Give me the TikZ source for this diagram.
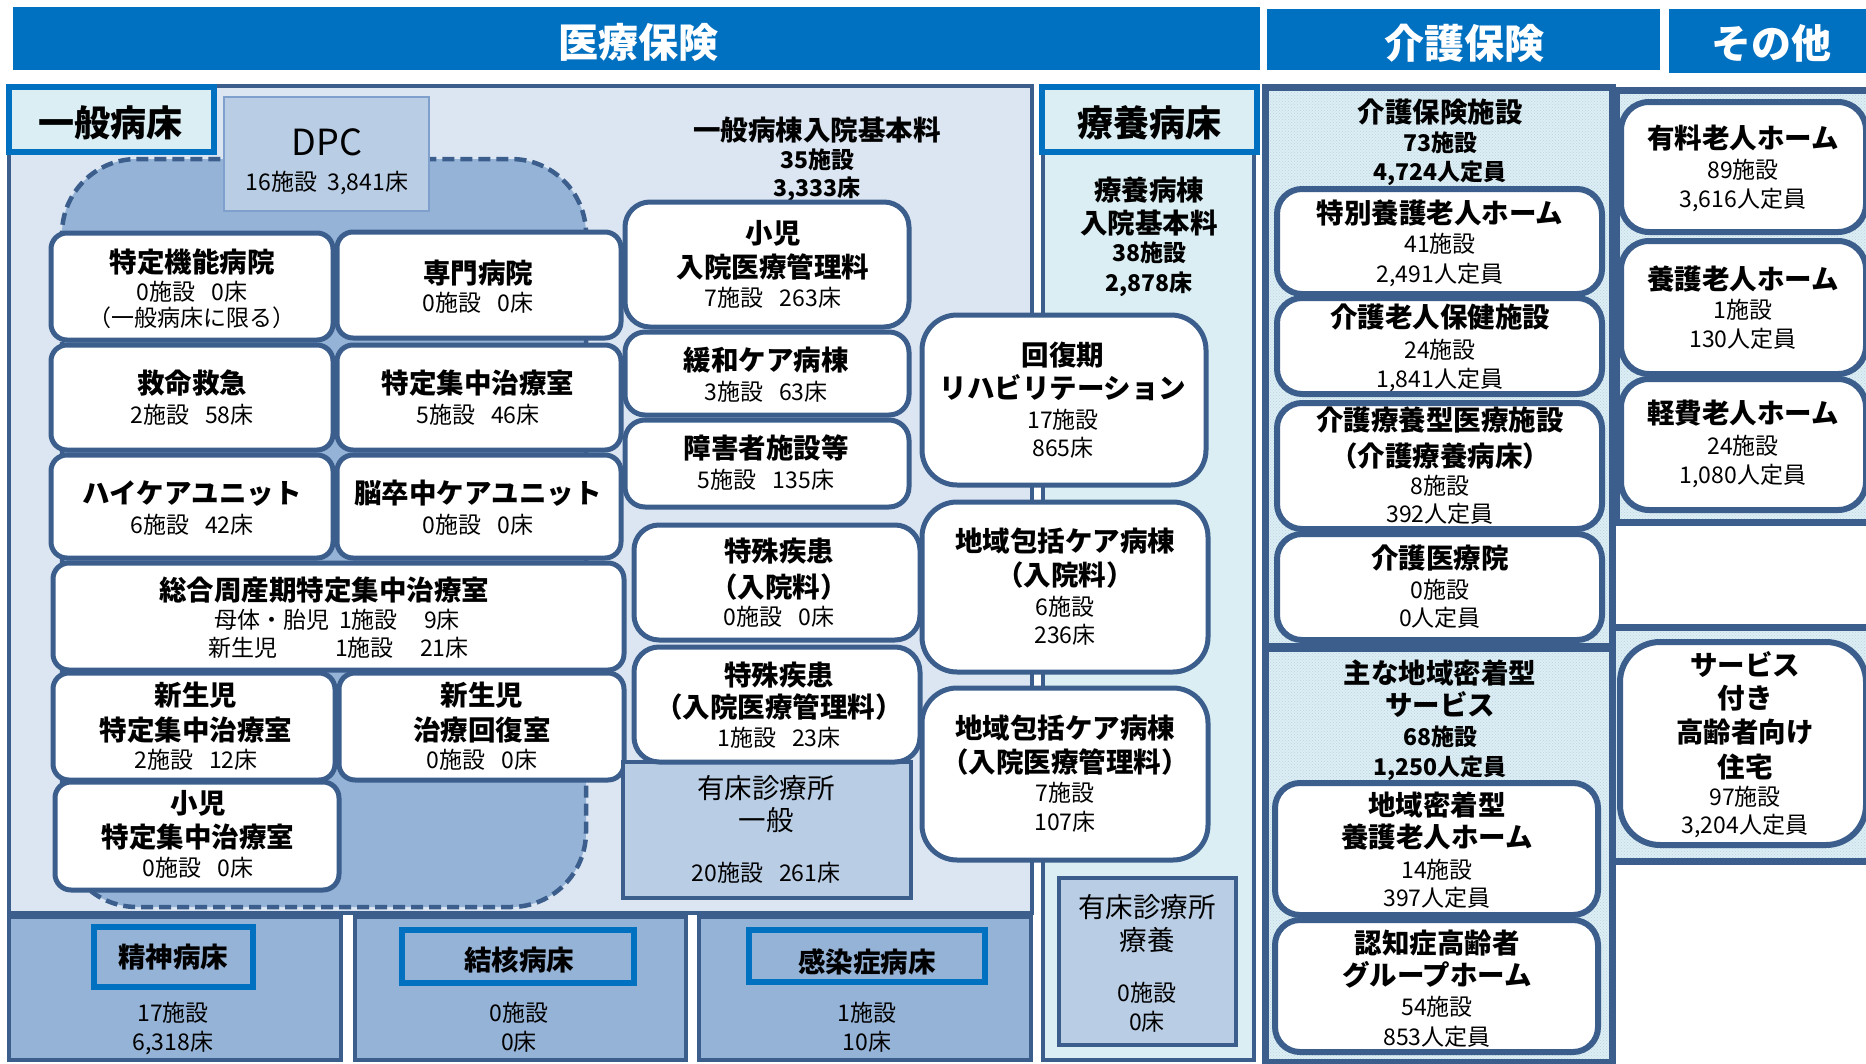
\documentclass[tikz,border=0pt]{standalone}
\usepackage{fontspec}
\setmainfont{Noto Sans CJK JP}
\usetikzlibrary{fit,patterns}
\definecolor{hdr}{HTML}{0070C0}
\definecolor{dk}{HTML}{3B5E8C}
\definecolor{pane}{HTML}{DCE6F2}
\definecolor{mid}{HTML}{95B3D7}
\definecolor{pale}{HTML}{B9CDE5}
\definecolor{cyanl}{HTML}{DAEEF3}
\definecolor{dpcb}{HTML}{7F9FCC}
\definecolor{kfill}{HTML}{DDEEF4}
\definecolor{kdot}{HTML}{B8D4E2}
\newcommand\gp{\hspace{0.7em}}
\newcommand\mkbox[6]{\path (#3,#4) coordinate (#2a) (#5,#6) coordinate (#2b);
  \node[#1, fit=(#2a)(#2b)] (#2) {};}
\newcommand\tx[5]{\node[#1] (#2) at (#3,#4) {#5};}
\tikzset{
  every node/.style={inner sep=0pt, outer sep=0pt},
  hbar/.style={fill=hdr},
  gpan/.style={fill=pane, draw=dk, line width=4pt},
  rpan/.style={fill=cyanl, draw=dk, line width=4pt},
  lab/.style={fill=cyanl, draw=hdr, line width=6pt},
  blab/.style={fill=mid, draw=hdr, line width=6pt},
  bpan/.style={fill=mid, draw=dk, line width=4pt},
  clin/.style={fill=pale, draw=dk, line width=4pt},
  dpcbox/.style={fill=pale, draw=dpcb, line width=1.5pt},
  wbox/.style={fill=white, draw=dk, line width=5pt, rounded corners=#1},
  kbox/.style={fill=white, draw=dk, line width=6pt, rounded corners=#1},
  kpan/.style={draw=dk, line width=7pt, preaction={fill=kfill}, pattern=crosshatch dots, pattern color=kdot},
  H/.style={font=\fontsize{40}{44}\selectfont\bfseries, text=white, text height=33pt, text depth=3pt},
  L/.style={font=\fontsize{36}{40}\selectfont\bfseries, text height=30pt, text depth=2.5pt},
  D/.style={font=\fontsize{36}{40}\selectfont, text height=30pt, text depth=2.5pt},
  T/.style={font=\fontsize{27.5}{30}\selectfont\bfseries, text height=22.8pt, text depth=1.9pt},
  M/.style={font=\fontsize{27.5}{30}\selectfont, text height=22.8pt, text depth=1.9pt},
  N/.style={font=\fontsize{23}{27}\selectfont, text height=19.1pt, text depth=1.6pt},
  NB/.style={font=\fontsize{23}{27}\selectfont\bfseries, text height=19.1pt, text depth=1.6pt},
}
\begin{document}
\begin{tikzpicture}[x=1pt, y=-1pt]
\useasboundingbox (0,0) rectangle (1866,1063);
\clip (0,0) rectangle (1866,1063);
% headers
\mkbox{hbar}{hA}{13}{7}{1260}{70}
\mkbox{hbar}{hB}{1267}{9}{1660}{70}
\mkbox{hbar}{hC}{1669}{9}{1875}{73}
\tx{H}{thA}{638}{42}{医療保険}
\tx{H}{thB}{1464}{43}{介護保険}
\tx{H}{thC}{1771}{43}{その他}
% general beds panel
\mkbox{gpan}{pG}{9}{86}{1032}{913}
\draw[fill=mid, draw=dk, line width=4.5pt, dash pattern=on 12pt off 6pt, rounded corners=75pt] (62,159) rectangle (586,907);
\mkbox{dpcbox}{dpc}{224}{97}{429}{211}
\tx{D}{tdpc}{327}{142}{DPC}
\tx{N}{tdpc2}{327}{182}{16施設\hspace{0.45em}3,841床}
\mkbox{lab}{lab1}{9}{87}{214}{152}
\tx{L}{tlab1}{110}{123}{一般病床}
\tx{T}{tgen}{817}{130}{一般病棟入院基本料}
\tx{NB}{tgen2}{817}{160}{35施設}
\tx{NB}{tgen3}{817}{188}{3,333床}
% left boxes
\mkbox{wbox=16pt}{b1}{51}{233}{333}{340}
\mkbox{wbox=16pt}{b2}{337}{232}{621}{338}
\mkbox{wbox=16pt}{b3}{51}{345}{333}{450}
\mkbox{wbox=16pt}{b4}{337}{345}{621}{450}
\mkbox{wbox=16pt}{b5}{51}{455}{333}{558}
\mkbox{wbox=16pt}{b6}{337}{455}{621}{558}
\mkbox{wbox=16pt}{b7}{53}{563}{624}{670}
\mkbox{wbox=16pt}{b8}{53}{673}{335}{780}
\mkbox{wbox=16pt}{b9}{339}{673}{624}{780}
\mkbox{wbox=16pt}{b10}{55}{782}{339}{890}
\tx{T}{t1a}{192}{262}{特定機能病院}
\tx{N}{t1b}{192}{292}{0施設\gp 0床}
\tx{N}{t1c}{192}{318}{（一般病床に限る）}
\tx{T}{t2a}{478}{273}{専門病院}
\tx{N}{t2b}{478}{303}{0施設\gp 0床}
\tx{T}{t3a}{192}{383}{救命救急}
\tx{N}{t3b}{192}{415}{2施設\gp 58床}
\tx{T}{t4a}{478}{383}{特定集中治療室}
\tx{N}{t4b}{478}{415}{5施設\gp 46床}
\tx{T}{t5a}{192}{493}{ハイケアユニット}
\tx{N}{t5b}{192}{525}{6施設\gp 42床}
\tx{T}{t6a}{478}{493}{脳卒中ケアユニット}
\tx{N}{t6b}{478}{525}{0施設\gp 0床}
\tx{T}{t7a}{324}{590}{総合周産期特定集中治療室}
\tx{N,anchor=west}{t7b}{214}{620}{母体・胎児}
\tx{N,anchor=west}{t7c}{339}{620}{1施設}
\tx{N,anchor=west}{t7d}{424}{620}{9床}
\tx{N,anchor=west}{t7e}{208}{648}{新生児}
\tx{N,anchor=west}{t7f}{335}{648}{1施設}
\tx{N,anchor=west}{t7g}{420}{648}{21床}
\tx{T}{t8a}{196}{695}{新生児}
\tx{T}{t8b}{196}{730}{特定集中治療室}
\tx{N}{t8c}{196}{760}{2施設\gp 12床}
\tx{T}{t9a}{482}{695}{新生児}
\tx{T}{t9b}{482}{730}{治療回復室}
\tx{N}{t9c}{482}{760}{0施設\gp 0床}
\tx{T}{t10a}{198}{803}{小児}
\tx{T}{t10b}{198}{837}{特定集中治療室}
\tx{N}{t10c}{198}{868}{0施設\gp 0床}
% middle column
\mkbox{wbox=25pt}{b11}{625}{202}{909}{327}
\mkbox{wbox=20pt}{b12}{625}{332}{909}{415}
\mkbox{wbox=20pt}{b13}{625}{420}{909}{507}
\mkbox{wbox=25pt}{b14}{634}{525}{920}{640}
\mkbox{clin}{c1}{623}{762}{911}{898}
\mkbox{wbox=25pt}{b15}{634}{647}{920}{762}
\tx{T}{t11a}{773}{233}{小児}
\tx{T}{t11b}{773}{267}{入院医療管理料}
\tx{N}{t11c}{773}{298}{7施設\gp 263床}
\tx{T}{t12a}{766}{360}{緩和ケア病棟}
\tx{N}{t12b}{766}{392}{3施設\gp 63床}
\tx{T}{t13a}{766}{448}{障害者施設等}
\tx{N}{t13b}{766}{480}{5施設\gp 135床}
\tx{T}{t14a}{779}{551}{特殊疾患}
\tx{T}{t14b}{779}{587}{（入院料）}
\tx{N}{t14c}{779}{617}{0施設\gp 0床}
\tx{T}{t15a}{779}{675}{特殊疾患}
\tx{T}{t15b}{779}{707}{（入院医療管理料）}
\tx{N}{t15c}{779}{738}{1施設\gp 23床}
\tx{M}{tc1a}{766}{788}{有床診療所}
\tx{M}{tc1b}{766}{820}{一般}
\tx{N}{tc1c}{766}{873}{20施設\gp 261床}
% ryoyo panel
\mkbox{rpan}{pR}{1043}{87}{1254}{1060}
\mkbox{lab}{lab2}{1042}{87}{1257}{152}
\tx{L}{tlab2}{1149}{123}{療養病床}
\tx{T}{tr1}{1149}{190}{療養病棟}
\tx{T}{tr2}{1149}{223}{入院基本料}
\tx{NB}{tr3}{1149}{253}{38施設}
\tx{NB}{tr4}{1149}{283}{2,878床}
\mkbox{clin}{c2}{1059}{878}{1236}{1045}
\tx{M}{tc2a}{1147}{907}{有床診療所}
\tx{M}{tc2b}{1147}{940}{療養}
\tx{N}{tc2c}{1147}{993}{0施設}
\tx{N}{tc2d}{1147}{1022}{0床}
% straddling boxes
\mkbox{wbox=35pt}{b16}{922}{315}{1206}{485}
\mkbox{wbox=35pt}{b17}{922}{502}{1208}{672}
\mkbox{wbox=35pt}{b18}{922}{688}{1208}{860}
\tx{T}{t16a}{1063}{355}{回復期}
\tx{T}{t16b}{1063}{388}{リハビリテーション}
\tx{N}{t16c}{1063}{420}{17施設}
\tx{N}{t16d}{1063}{448}{865床}
\tx{T}{t17a}{1065}{541}{地域包括ケア病棟}
\tx{T}{t17b}{1065}{575}{（入院料）}
\tx{N}{t17c}{1065}{607}{6施設}
\tx{N}{t17d}{1065}{635}{236床}
\tx{T}{t18a}{1065}{728}{地域包括ケア病棟}
\tx{T}{t18b}{1065}{762}{（入院医療管理料）}
\tx{N}{t18c}{1065}{793}{7施設}
\tx{N}{t18d}{1065}{822}{107床}
% bottom panels
\mkbox{bpan}{pS}{9}{917}{341}{1060}
\mkbox{bpan}{pK}{355}{917}{686}{1060}
\mkbox{bpan}{pI}{699}{917}{1031}{1060}
\mkbox{blab}{lS}{94}{927}{253}{987}
\mkbox{blab}{lK}{402}{930}{634}{983}
\mkbox{blab}{lI}{749}{930}{985}{982}
\tx{T}{tlS}{173}{957}{精神病床}
\tx{T}{tlK}{519}{960}{結核病床}
\tx{T}{tlI}{867}{962}{感染症病床}
\tx{N}{tS1}{173}{1013}{17施設}
\tx{N}{tS2}{173}{1042}{6,318床}
\tx{N}{tK1}{519}{1013}{0施設}
\tx{N}{tK2}{519}{1042}{0床}
\tx{N}{tI1}{867}{1013}{1施設}
\tx{N}{tI2}{867}{1042}{10床}
% kaigo panel
\mkbox{kpan}{pC}{1265}{87}{1612}{1062}
\path (1265,647) coordinate (sepL) (1612,647) coordinate (sepR);
\draw[dk, line width=9pt] (sepL) -- (sepR);
\tx{T}{tk0a}{1440}{112}{介護保険施設}
\tx{NB}{tk0b}{1440}{143}{73施設}
\tx{NB}{tk0c}{1440}{172}{4,724人定員}
\mkbox{kbox=25pt}{k1}{1277}{189}{1602}{294}
\mkbox{kbox=25pt}{k2}{1277}{298}{1602}{394}
\mkbox{kbox=25pt}{k3}{1277}{403}{1602}{529}
\mkbox{kbox=25pt}{k4}{1277}{534}{1602}{640}
\mkbox{kbox=25pt}{k5}{1275}{783}{1598}{915}
\mkbox{kbox=25pt}{k6}{1275}{920}{1598}{1052}
\tx{T}{tk1a}{1440}{213}{特別養護老人ホーム}
\tx{N}{tk1b}{1440}{244}{41施設}
\tx{N}{tk1c}{1440}{274}{2,491人定員}
\tx{T}{tk2a}{1440}{317}{介護老人保健施設}
\tx{N}{tk2b}{1440}{350}{24施設}
\tx{N}{tk2c}{1440}{379}{1,841人定員}
\tx{T}{tk3a}{1440}{420}{介護療養型医療施設}
\tx{T}{tk3b}{1440}{456}{（介護療養病床）}
\tx{N}{tk3c}{1440}{486}{8施設}
\tx{N}{tk3d}{1440}{514}{392人定員}
\tx{T}{tk4a}{1440}{558}{介護医療院}
\tx{N}{tk4b}{1440}{590}{0施設}
\tx{N}{tk4c}{1440}{618}{0人定員}
\tx{T}{tk5a}{1440}{673}{主な地域密着型}
\tx{T}{tk5b}{1440}{705}{サービス}
\tx{NB}{tk5c}{1440}{737}{68施設}
\tx{NB}{tk5d}{1440}{767}{1,250人定員}
\tx{T}{tk6a}{1437}{805}{地域密着型}
\tx{T}{tk6b}{1437}{837}{養護老人ホーム}
\tx{N}{tk6c}{1437}{870}{14施設}
\tx{N}{tk6d}{1437}{898}{397人定員}
\tx{T}{tk7a}{1437}{943}{認知症高齢者}
\tx{T}{tk7b}{1437}{975}{グループホーム}
\tx{N}{tk7c}{1437}{1007}{54施設}
\tx{N}{tk7d}{1437}{1037}{853人定員}
% others
\mkbox{kpan}{pO1}{1616}{90}{1880}{522}
\mkbox{kbox=28pt}{o1}{1621}{102}{1866}{232}
\mkbox{kbox=28pt}{o2}{1621}{241}{1866}{374}
\mkbox{kbox=28pt}{o3}{1621}{379}{1866}{510}
\mkbox{kpan}{pO2}{1612}{627}{1880}{861}
\mkbox{kbox=40pt}{o4}{1620}{642}{1866}{845}
\tx{T}{to1a}{1743}{138}{有料老人ホーム}
\tx{N}{to1b}{1743}{170}{89施設}
\tx{N}{to1c}{1743}{199}{3,616人定員}
\tx{T}{to2a}{1743}{279}{養護老人ホーム}
\tx{N}{to2b}{1743}{310}{1施設}
\tx{N}{to2c}{1743}{339}{130人定員}
\tx{T}{to3a}{1743}{413}{軽費老人ホーム}
\tx{N}{to3b}{1743}{446}{24施設}
\tx{N}{to3c}{1743}{475}{1,080人定員}
\tx{T}{to4a}{1745}{665}{サービス}
\tx{T}{to4b}{1745}{698}{付き}
\tx{T}{to4c}{1745}{732}{高齢者向け}
\tx{T}{to4d}{1745}{767}{住宅}
\tx{N}{to4e}{1745}{797}{97施設}
\tx{N}{to4f}{1745}{825}{3,204人定員}
\end{tikzpicture}
\end{document}
